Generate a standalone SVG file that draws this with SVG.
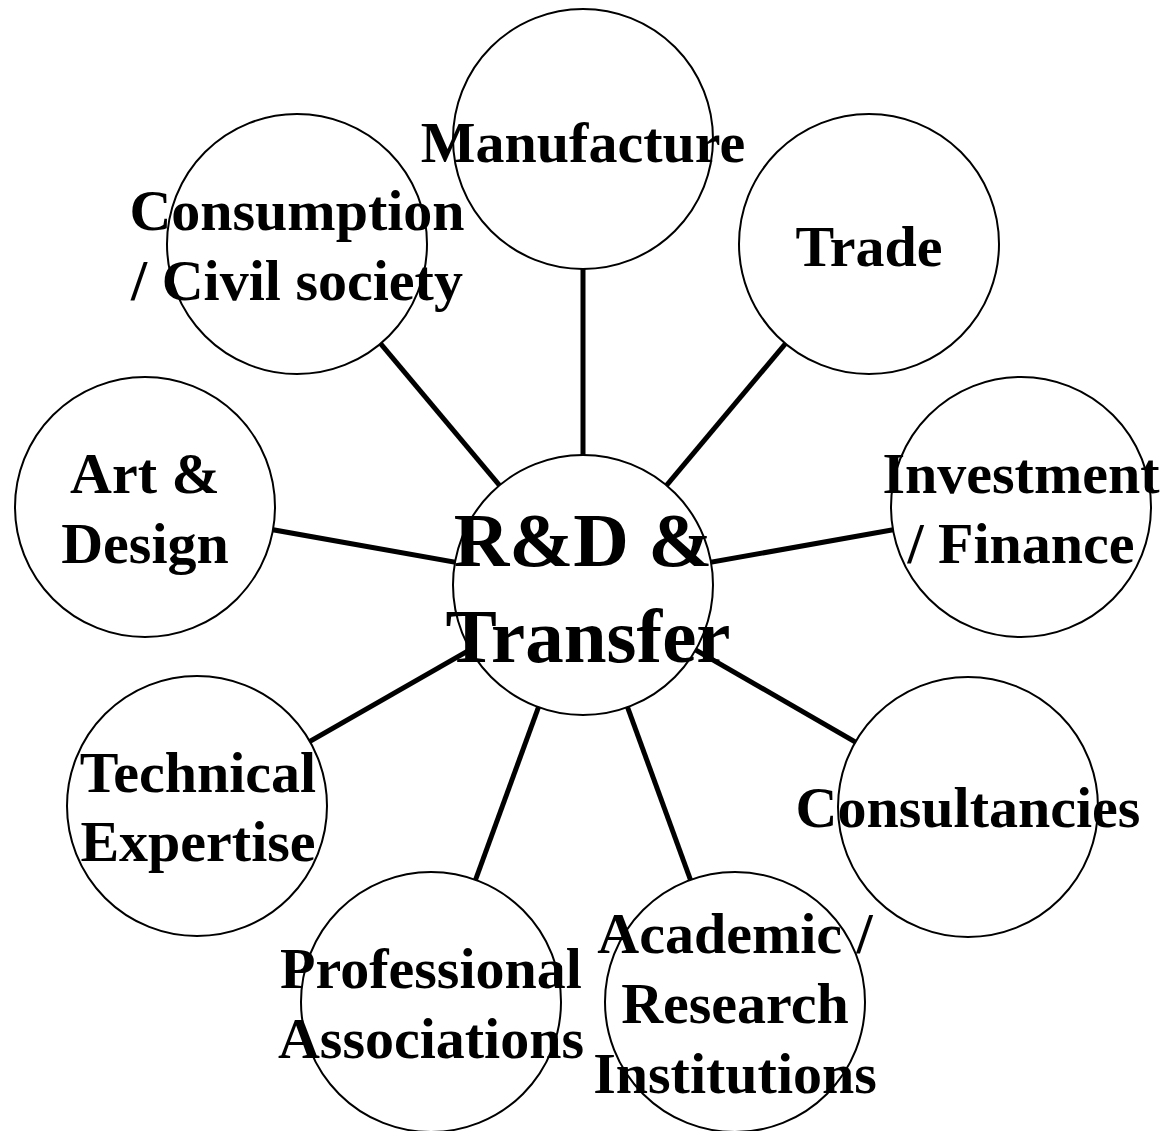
<svg xmlns="http://www.w3.org/2000/svg" width="1165" height="1131" viewBox="0 0 1165 1131">
  <style>
    .node { fill: #ffffff; stroke: #000000; stroke-width: 2; }
    .link { stroke: #000000; stroke-width: 5; }
    .label { font-family: "Liberation Serif", "Times New Roman", serif; font-weight: bold; font-size: 58px; text-anchor: middle; fill: #000000; }
    .hub { font-size: 77px; }
  </style>
  <rect width="1165" height="1131" fill="#ffffff"/>

  <!-- spokes from the hub to each satellite, drawn centre to centre and hidden under the circles -->
  <g id="connectors">
    <line class="link" x1="583" y1="585" x2="583" y2="139"/>
    <line class="link" x1="583" y1="585" x2="869" y2="244"/>
    <line class="link" x1="583" y1="585" x2="297" y2="244"/>
    <line class="link" x1="583" y1="585" x2="145" y2="507"/>
    <line class="link" x1="583" y1="585" x2="1021" y2="507"/>
    <line class="link" x1="583" y1="585" x2="968" y2="807"/>
    <line class="link" x1="583" y1="585" x2="197" y2="806"/>
    <line class="link" x1="583" y1="585" x2="431" y2="1002"/>
    <line class="link" x1="583" y1="585" x2="735" y2="1002"/>
  </g>

  <g id="manufacture">
    <circle class="node" cx="583" cy="139" r="130"/>
  </g>
  <g id="trade">
    <circle class="node" cx="869" cy="244" r="130"/>
  </g>
  <g id="consumption">
    <circle class="node" cx="297" cy="244" r="130"/>
  </g>
  <g id="art-design">
    <circle class="node" cx="145" cy="507" r="130"/>
  </g>
  <g id="investment">
    <circle class="node" cx="1021" cy="507" r="130"/>
  </g>
  <g id="consultancies">
    <circle class="node" cx="968" cy="807" r="130"/>
  </g>
  <g id="technical">
    <circle class="node" cx="197" cy="806" r="130"/>
  </g>
  <g id="professional">
    <circle class="node" cx="431" cy="1002" r="130"/>
  </g>
  <g id="academic">
    <circle class="node" cx="735" cy="1002" r="130"/>
  </g>
  <g id="hub">
    <circle class="node" cx="583" cy="585" r="130"/>
  </g>

  <!-- labels sit above every circle so overhanging text stays visible -->
  <g id="labels">
    <text class="label" x="583" y="162">Manufacture</text>
    <text class="label" x="869" y="266">Trade</text>
    <text class="label" x="297" y="230">Consumption</text>
    <text class="label" x="297" y="300">/ Civil society</text>
    <text class="label" x="145" y="493">Art &amp;</text>
    <text class="label" x="145" y="563">Design</text>
    <text class="label" x="1021" y="493">Investment</text>
    <text class="label" x="1021" y="563">/ Finance</text>
    <text class="label" x="968" y="827">Consultancies</text>
    <text class="label" x="198" y="792">Technical</text>
    <text class="label" x="198" y="861">Expertise</text>
    <text class="label" x="431" y="988">Professional</text>
    <text class="label" x="431" y="1058">Associations</text>
    <text class="label" x="735" y="953">Academic /</text>
    <text class="label" x="735" y="1023">Research</text>
    <text class="label" x="735" y="1093">Institutions</text>
    <text class="label hub" x="583" y="566">R&amp;D &amp;</text>
    <text class="label hub" x="588" y="662">Transfer</text>
  </g>
</svg>
